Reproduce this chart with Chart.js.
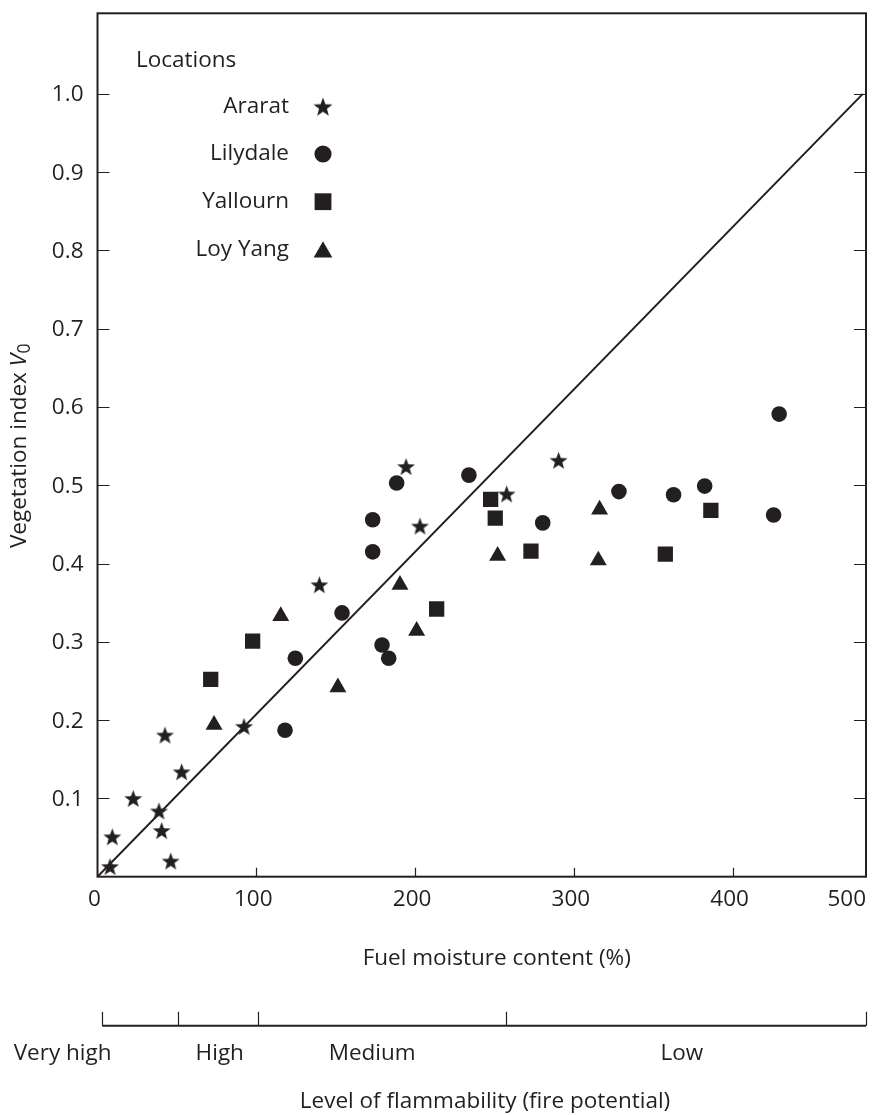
<!DOCTYPE html>
<html>
<head>
<meta charset="utf-8">
<script src="https://cdn.jsdelivr.net/npm/chart.js@4/dist/chart.umd.min.js"></script>
<style>
  html, body { margin: 0; padding: 0; background: #fff; }
</style>
</head>
<body>
<canvas id="fuel" width="872" height="1115"></canvas>
<script>
const ink = '#231f20';
const family = "'Open Sans', 'Noto Sans', sans-serif";
const fontSize = 22.5;

// Ararat (stars)
const araratX = [194.3, 203.1, 139.7, 290.4, 257.7, 92.3, 42.5, 53.0, 22.5, 38.7, 9.3, 40.4, 46.1, 7.9];
const araratY = [0.524, 0.448, 0.373, 0.532, 0.489, 0.192, 0.181, 0.134, 0.100, 0.084, 0.051, 0.059, 0.020, 0.013];

// Lilydale (circles)
const lilydaleX = [118.1, 124.6, 154.0, 179.2, 183.4, 173.3, 173.3, 188.4, 233.9, 280.4, 328.4, 362.8, 382.4, 425.8, 429.3];
const lilydaleY = [0.187, 0.279, 0.337, 0.296, 0.279, 0.415, 0.456, 0.503, 0.513, 0.452, 0.492, 0.488, 0.499, 0.462, 0.591];

// Yallourn (squares)
const yallournX = [71.3, 97.7, 213.6, 247.6, 250.5, 273.0, 357.6, 386.3];
const yallournY = [0.252, 0.301, 0.342, 0.482, 0.458, 0.416, 0.412, 0.468];

// Loy Yang (triangles)
const loyYangX = [73.4, 115.4, 151.4, 190.5, 201.0, 252.0, 315.4, 316.2];
const loyYangY = [0.194, 0.333, 0.242, 0.373, 0.314, 0.410, 0.404, 0.469];

// straight line through the cloud
const lineX = [0, 482];
const lineY = [0, 1.0];

const xTickValues = [0, 100, 200, 300, 400, 500];
const yTickValues = [0.1, 0.2, 0.3, 0.4, 0.5, 0.6, 0.7, 0.8, 0.9, 1.0];

// flammability scale under the x axis (in fuel moisture %)
const flamBreaks = [3, 51, 101, 257, 484];
const flamLabels = ['Very high', 'High', 'Medium', 'Low'];
const flamLabelAt = [-22, 77, 173, 368];

const toPoints = (xs, ys) => xs.map((x, i) => ({x: x, y: ys[i]}));

function makeStar(outer, inner) {
  const size = Math.ceil(outer * 2) + 2;
  const c = document.createElement('canvas');
  c.width = size; c.height = size;
  const g = c.getContext('2d');
  g.fillStyle = ink;
  g.beginPath();
  for (let i = 0; i < 10; i++) {
    const r = i % 2 ? inner : outer;
    const a = -Math.PI / 2 + i * Math.PI / 5;
    const px = size / 2 + r * Math.cos(a);
    const py = size / 2 + 0.8 + r * Math.sin(a);
    if (i === 0) g.moveTo(px, py); else g.lineTo(px, py);
  }
  g.closePath();
  g.fill();
  return c;
}
const starMark = makeStar(9.4, 3.9);
const starMarkBig = makeStar(10, 4.1);

function mark(ctx, style, r, cx, cy) {
  ctx.beginPath();
  if (style === 'star') {
    ctx.drawImage(starMarkBig, cx - starMarkBig.width / 2, cy - starMarkBig.height / 2);
  } else if (style === 'circle') {
    ctx.arc(cx, cy, r, 0, Math.PI * 2);
    ctx.fill();
  } else if (style === 'rect') {
    const s = Math.SQRT1_2 * r;
    ctx.rect(cx - s, cy - s, 2 * s, 2 * s);
    ctx.fill();
  } else if (style === 'triangle') {
    for (let i = 0; i < 3; i++) {
      const a = i * 2 * Math.PI / 3;
      const px = cx + Math.sin(a) * r, py = cy - Math.cos(a) * r;
      if (i === 0) ctx.moveTo(px, py); else ctx.lineTo(px, py);
    }
    ctx.closePath();
    ctx.fill();
  }
}

const extras = {
  id: 'extras',
  afterDraw(chart) {
    const {ctx, chartArea: a, scales: {x, y}} = chart;
    const f = fontSize + 'px ' + family;
    ctx.save();
    ctx.strokeStyle = ink;
    ctx.fillStyle = ink;

    // frame
    ctx.lineWidth = 2;
    ctx.strokeRect(a.left, a.top, a.right - a.left, a.bottom - a.top);

    // inward tick marks
    ctx.lineWidth = 1.2;
    ctx.beginPath();
    yTickValues.forEach(v => {
      const py = Math.round(y.getPixelForValue(v)) + 0.5;
      ctx.moveTo(a.left, py); ctx.lineTo(a.left + 12, py);
      ctx.moveTo(a.right, py); ctx.lineTo(a.right - 12, py);
    });
    xTickValues.forEach(v => {
      if (v <= x.min || v >= x.max) return;
      const px = Math.round(x.getPixelForValue(v)) + 0.5;
      ctx.moveTo(px, a.bottom); ctx.lineTo(px, a.bottom - 9);
    });
    ctx.stroke();

    // y tick labels
    ctx.font = f;
    ctx.textAlign = 'right';
    ctx.textBaseline = 'middle';
    yTickValues.forEach(v => {
      ctx.fillText(v.toFixed(1), a.left - 14, y.getPixelForValue(v) + 1);
    });

    // x tick labels
    ctx.textBaseline = 'alphabetic';
    xTickValues.forEach(v => {
      if (v < x.max) {
        ctx.textAlign = 'center';
        ctx.fillText(String(v), x.getPixelForValue(v) - 3, a.bottom + 29);
      } else {
        ctx.textAlign = 'right';
        ctx.fillText(String(v), a.right, a.bottom + 29);
      }
    });

    // x title
    ctx.textAlign = 'center';
    ctx.fillText('Fuel moisture content (%)', (a.left + a.right) / 2 + 15, a.bottom + 88);

    // y title with italic V and subscript 0
    ctx.save();
    ctx.translate(26, 446);
    ctx.rotate(-Math.PI / 2);
    const plain = 'Vegetation index ';
    ctx.font = f;
    const w1 = ctx.measureText(plain).width;
    ctx.font = 'italic ' + f;
    const w2 = ctx.measureText('V').width;
    ctx.font = (fontSize - 5) + 'px ' + family;
    const w3 = ctx.measureText('0').width;
    let sx = -(w1 + w2 + w3) / 2;
    ctx.textAlign = 'left';
    ctx.font = f;
    ctx.fillText(plain, sx, 0); sx += w1;
    ctx.font = 'italic ' + f;
    ctx.fillText('V', sx, 0); sx += w2 + 0.5;
    ctx.font = (fontSize - 5) + 'px ' + family;
    ctx.fillText('0', sx, 4);
    ctx.restore();

    // legend
    ctx.font = f;
    ctx.textAlign = 'left';
    ctx.textBaseline = 'middle';
    ctx.fillText('Locations', 136, 61);
    const rowY = [106.7, 154, 201.7, 250];
    chart.data.datasets.forEach((ds, i) => {
      if (!ds.inLegend) return;
      ctx.textAlign = 'right';
      ctx.fillText(ds.label, 289, rowY[i]);
      mark(ctx, ds.legendStyle, ds.pointRadius * 1.1, 323, rowY[i] + (ds.legendStyle === 'triangle' ? 2 : 0));
    });

    // flammability scale
    const fy = 1025.7;
    const fx0 = x.getPixelForValue(flamBreaks[0]);
    const fx1 = x.getPixelForValue(flamBreaks[flamBreaks.length - 1]);
    ctx.lineWidth = 2;
    ctx.beginPath();
    ctx.moveTo(fx0, fy); ctx.lineTo(fx1, fy);
    ctx.stroke();
    ctx.lineWidth = 1.2;
    ctx.beginPath();
    flamBreaks.forEach(v => {
      const px = Math.round(x.getPixelForValue(v)) + 0.5;
      ctx.moveTo(px, fy); ctx.lineTo(px, fy - 14);
    });
    ctx.stroke();
    ctx.textAlign = 'center';
    ctx.textBaseline = 'alphabetic';
    flamLabels.forEach((t, i) => {
      ctx.fillText(t, x.getPixelForValue(flamLabelAt[i]), 1060);
    });
    ctx.fillText('Level of flammability (fire potential)', 485, 1108);
    ctx.restore();
  }
};

const ctx = document.getElementById('fuel');
const myScatter = new Chart(ctx, {
  type: 'scatter',
  data: {
    datasets: [
      {
        label: 'Ararat', inLegend: true, legendStyle: 'star',
        data: toPoints(araratX, araratY),
        pointStyle: starMark, pointRadius: 9,
        backgroundColor: ink, borderWidth: 0,
      },
      {
        label: 'Lilydale', inLegend: true, legendStyle: 'circle',
        data: toPoints(lilydaleX, lilydaleY),
        pointStyle: 'circle', pointRadius: 7.8,
        backgroundColor: ink, borderColor: ink, borderWidth: 0,
      },
      {
        label: 'Yallourn', inLegend: true, legendStyle: 'rect',
        data: toPoints(yallournX, yallournY),
        pointStyle: 'rect', pointRadius: 10.8,
        backgroundColor: ink, borderColor: ink, borderWidth: 0,
      },
      {
        label: 'Loy Yang', inLegend: true, legendStyle: 'triangle',
        data: toPoints(loyYangX, loyYangY),
        pointStyle: 'triangle', pointRadius: 9.8,
        backgroundColor: ink, borderColor: ink, borderWidth: 0,
      },
      {
        label: 'Trend', inLegend: false,
        data: toPoints(lineX, lineY),
        showLine: true, pointRadius: 0,
        borderColor: ink, borderWidth: 2,
      },
    ],
  },
  options: {
    responsive: false,
    animation: false,
    events: [],
    layout: {autoPadding: false, padding: {left: 97.5, top: 13.3, right: 6, bottom: 238.3}},
    plugins: {
      legend: {display: false},
      tooltip: {enabled: false},
    },
    scales: {
      x: {
        type: 'linear', min: 0, max: 484,
        grid: {display: false, drawTicks: false},
        border: {display: false},
        ticks: {display: false},
        afterFit: s => { s.height = 0; },
      },
      y: {
        type: 'linear', min: 0, max: 1.103,
        grid: {display: false, drawTicks: false},
        border: {display: false},
        ticks: {display: false},
        afterFit: s => { s.width = 0; },
      },
    },
  },
  plugins: [extras],
});
</script>
</body>
</html>
